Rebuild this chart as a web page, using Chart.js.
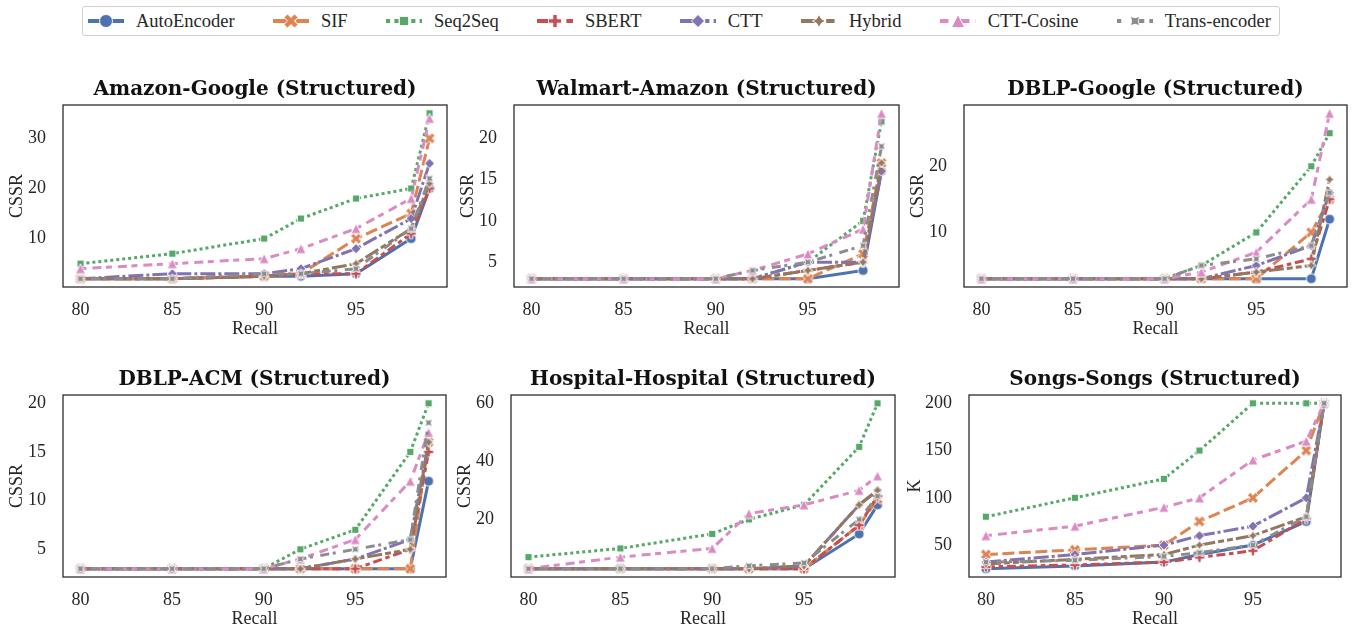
<!DOCTYPE html>
<html><head><meta charset="utf-8">
<script src="https://cdn.jsdelivr.net/npm/chart.js@4.4.0/dist/chart.umd.min.js"></script>
<style>
html,body{margin:0;padding:0;background:#fff;}
body{width:1356px;height:628px;position:relative;overflow:hidden;font-family:"Liberation Serif",serif;}
canvas.panel{position:absolute;}
#legend{position:absolute;left:82px;top:6px;width:1198px;height:30px;box-sizing:border-box;border:1px solid #d0d0d0;border-radius:3px;display:flex;justify-content:space-between;align-items:center;padding:0 8px 0 5px;}
.item{display:flex;align-items:center;font-size:18.5px;color:#262626;white-space:nowrap;}
.item canvas{margin-right:12px;}
</style></head><body>
<div id="legend"></div>
<script>
// ---------- data ----------
const recall = [80, 85, 90, 92, 95, 98, 99];
const methods = ['AutoEncoder', 'SIF', 'Seq2Seq', 'SBERT', 'CTT', 'Hybrid', 'CTT-Cosine', 'Trans-encoder'];
const xTickValues = [80, 85, 90, 95];
// rows follow `methods`, columns follow `recall`
const amazonGoogle = [
  [2, 2, 2.5, 2.5, 3, 10, 20],
  [2, 2, 2.5, 3, 10, 15, 30],
  [5, 7, 10, 14, 18, 20, 35],
  [2, 2, 2.5, 3, 3, 11, 20],
  [2, 3, 3, 4, 8, 14, 25],
  [2, 2, 2.5, 3, 5, 12, 21],
  [4, 5, 6, 8, 12, 18, 34],
  [2, 2, 3, 3, 4, 12, 22]
];
const walmartAmazon = [
  [3, 3, 3, 3, 3, 4, 16],
  [3, 3, 3, 3, 3, 6, 17],
  [3, 3, 3, 3, 5, 10, 22],
  [3, 3, 3, 3, 4, 5, 16],
  [3, 3, 3, 3, 5, 5, 16],
  [3, 3, 3, 3, 4, 5, 17],
  [3, 3, 3, 4, 6, 9, 23],
  [3, 3, 3, 4, 5, 7, 19]
];
const dblpGoogle = [
  [3, 3, 3, 3, 3, 3, 12],
  [3, 3, 3, 3, 3, 10, 15],
  [3, 3, 3, 5, 10, 20, 25],
  [3, 3, 3, 3, 4, 6, 15],
  [3, 3, 3, 3, 5, 8, 16],
  [3, 3, 3, 3, 4, 5, 18],
  [3, 3, 3, 4, 7, 15, 28],
  [3, 3, 3, 5, 6, 8, 16]
];
const dblpAcm = [
  [3, 3, 3, 3, 3, 3, 12],
  [3, 3, 3, 3, 3, 3, 16],
  [3, 3, 3, 5, 7, 15, 20],
  [3, 3, 3, 3, 3, 5, 15],
  [3, 3, 3, 3, 4, 6, 16],
  [3, 3, 3, 3, 4, 5, 16],
  [3, 3, 3, 4, 6, 12, 17],
  [3, 3, 3, 4, 5, 6, 18]
];
const hospitalHospital = [
  [3, 3, 3, 3, 3, 15, 25],
  [3, 3, 3, 3, 3, 18, 27],
  [7, 10, 15, 20, 25, 45, 60],
  [3, 3, 3, 3, 3, 18, 28],
  [3, 3, 3, 3, 4, 25, 30],
  [3, 3, 3, 3, 4, 25, 30],
  [3, 7, 10, 22, 25, 30, 35],
  [3, 3, 3, 4, 5, 20, 28]
];
const songsSongs = [
  [25, 28, 32, 40, 50, 75, 200],
  [40, 45, 50, 75, 100, 150, 200],
  [80, 100, 120, 150, 200, 200, 200],
  [27, 29, 32, 37, 44, 78, 200],
  [32, 40, 50, 60, 70, 100, 200],
  [30, 35, 40, 50, 60, 80, 200],
  [60, 70, 90, 100, 140, 160, 200],
  [32, 34, 38, 42, 50, 80, 200]
];
const panelTitles = ['Amazon-Google (Structured)', 'Walmart-Amazon (Structured)', 'DBLP-Google (Structured)',
  'DBLP-ACM (Structured)', 'Hospital-Hospital (Structured)', 'Songs-Songs (Structured)'];
const yLabels = ['CSSR', 'CSSR', 'CSSR', 'CSSR', 'CSSR', 'K'];
const yTicksAG = [10, 20, 30];
const yTicksWA = [5, 10, 15, 20];
const yTicksDG = [10, 20];
const yTicksDA = [5, 10, 15, 20];
const yTicksHH = [20, 40, 60];
const yTicksSS = [50, 100, 150, 200];

// ---------- styles ----------
const colors = ['#4C72B0', '#DD8452', '#55A868', '#C44E52', '#8172B3', '#937860', '#DA8BC3', '#8C8C8C'];
const dashUnits = [[], [4, 1.5], [1, 1], [3, 1.25, 1.5, 1.25], [5, 1, 1, 1], [5, 1, 2, 1, 2, 1], [2, 2, 3, 1.5], [1, 2.5, 3, 1.2]];
const markers = ['circle', 'xfilled', 'square', 'plus', 'diamond', 'star4', 'triangle', 'star4rot'];

// ---------- layout (plot area rectangles) ----------
const panelBoxes = [
  {l: 63, t: 105, w: 389, wy: 61}, {l: 514, t: 105, w: 390, wy: 61}, {l: 964, t: 105, w: 388, wy: 61},
  {l: 63, t: 395, w: 388, wy: 61}, {l: 511, t: 395, w: 389, wy: 61}, {l: 969, t: 395, w: 377, wy: 69}
];
const PLOT_H = 182, TITLE_H = 32, XAXIS_H = 55, RPAD = 3;

function markerPath(type, s) {
  const p = new Path2D();
  const poly = (pts) => { pts.forEach((q, i) => i ? p.lineTo(q[0], q[1]) : p.moveTo(q[0], q[1])); p.closePath(); };
  const plusPts = (rot) => {
    const a = 1/6, b = 0.5;
    const base = [[-a,b],[a,b],[a,a],[b,a],[b,-a],[a,-a],[a,-b],[-a,-b],[-a,-a],[-b,-a],[-b,a],[-a,a]];
    const c = Math.cos(rot), sn = Math.sin(rot);
    return base.map(([x, y]) => [(x*c - y*sn)*s, -(x*sn + y*c)*s]);
  };
  const regular = (n, r, rot, inner) => {
    const pts = [];
    const count = inner ? n*2 : n;
    for (let i = 0; i < count; i++) {
      const ang = Math.PI/2 + rot + i*2*Math.PI/count;
      const rr = inner && i % 2 ? r*inner : r;
      pts.push([rr*Math.cos(ang), -rr*Math.sin(ang)]);
    }
    return pts;
  };
  switch (type) {
    case 'circle': p.arc(0, 0, s/2, 0, Math.PI*2); break;
    case 'xfilled': poly(plusPts(Math.PI/4).map(([x, y]) => [x*1.15, y*1.15])); break;
    case 'plus': poly(plusPts(0)); break;
    case 'square': poly(regular(4, s/2, Math.PI/4)); break;
    case 'diamond': poly(regular(4, s/2, 0)); break;
    case 'star4': poly(regular(4, s/2, 0, 0.5)); break;
    case 'star4rot': poly(regular(4, s/2, Math.PI/4, 0.5)); break;
    case 'triangle': poly([[0, -s/2], [-s/2, s/2], [s/2, s/2]]); break;
  }
  return p;
}
function drawMarker(ctx, type, x, y, s, color) {
  ctx.save();
  ctx.translate(x, y);
  const p = markerPath(type, s);
  ctx.fillStyle = color;
  ctx.fill(p);
  ctx.strokeStyle = '#ffffff';
  ctx.lineWidth = 0.9;
  ctx.setLineDash([]);
  ctx.stroke(p);
  ctx.restore();
}
function markerImage(type, s, color) {
  const c = document.createElement('canvas');
  const n = Math.ceil(s + 4);
  c.width = n; c.height = n;
  drawMarker(c.getContext('2d'), type, n/2, n/2, s, color);
  return c;
}

// ---------- legend ----------
const legendEl = document.getElementById('legend');
methods.forEach((name, k) => {
  const item = document.createElement('div');
  item.className = 'item';
  const c = document.createElement('canvas');
  c.width = 36; c.height = 22;
  const ctx = c.getContext('2d');
  const lw = 4.2;
  ctx.strokeStyle = colors[k];
  ctx.lineWidth = lw;
  ctx.setLineDash(dashUnits[k].map(d => d*lw));
  ctx.beginPath(); ctx.moveTo(0, 11); ctx.lineTo(36, 11); ctx.stroke();
  drawMarker(ctx, markers[k], 18, 11, 13, colors[k]);
  const span = document.createElement('span');
  span.textContent = name;
  item.appendChild(c); item.appendChild(span);
  legendEl.appendChild(item);
});

// ---------- panels ----------
const frame = {
  id: 'frame',
  afterDatasetsDraw(chart) {
    const {ctx, chartArea: a} = chart;
    ctx.save();
    ctx.strokeStyle = '#262626';
    ctx.lineWidth = 1.25;
    ctx.strokeRect(a.left, a.top, a.right - a.left, a.bottom - a.top);
    ctx.restore();
  }
};
const panelData = [amazonGoogle, walmartAmazon, dblpGoogle, dblpAcm, hospitalHospital, songsSongs];
const panelYTicks = [yTicksAG, yTicksWA, yTicksDG, yTicksDA, yTicksHH, yTicksSS];
const LW = 3;
const pointImgs = methods.map((_, k) => markerImage(markers[k], 10, colors[k]));
const tickFont = {family: 'Liberation Serif', size: 18};

panelData.forEach((rows, pi) => {
  const box = panelBoxes[pi];
  const cv = document.createElement('canvas');
  cv.className = 'panel';
  const W = box.wy + box.w + RPAD, H = TITLE_H + PLOT_H + XAXIS_H;
  cv.width = W; cv.height = H;
  cv.style.left = (box.l - box.wy) + 'px';
  cv.style.top = (box.t - TITLE_H) + 'px';
  cv.style.width = W + 'px'; cv.style.height = H + 'px';
  document.body.appendChild(cv);

  const all = rows.flat();
  const ymin = Math.min(...all), ymax = Math.max(...all);
  const yr = ymax - ymin;
  const xr = recall[recall.length - 1] - recall[0];

  new Chart(cv, {
    type: 'line',
    data: {
      datasets: rows.map((vals, k) => ({
        label: methods[k],
        data: recall.map((x, i) => ({x, y: vals[i]})),
        borderColor: colors[k],
        backgroundColor: colors[k],
        borderWidth: LW,
        borderDash: dashUnits[k].map(d => d*LW),
        borderCapStyle: 'butt',
        pointStyle: pointImgs[k],
        pointRadius: 5,
        tension: 0,
        fill: false,
        order: methods.length - k
      }))
    },
    options: {
      responsive: false,
      animation: false,
      devicePixelRatio: 1,
      layout: {padding: {left: 0, right: RPAD, top: 0, bottom: 0}},
      plugins: {
        legend: {display: false},
        tooltip: {enabled: false},
        title: {
          display: true, text: panelTitles[pi], fullSize: false,
          color: '#111',
          font: {family: 'DejaVu Serif', weight: 'bold', size: 20, lineHeight: '22px'},
          padding: {top: 6, bottom: 4}
        }
      },
      scales: {
        x: {
          type: 'linear',
          min: recall[0] - 0.05*xr, max: recall[recall.length - 1] + 0.05*xr,
          afterBuildTicks: s => { s.ticks = xTickValues.map(v => ({value: v})); },
          afterFit: s => { s.height = XAXIS_H; },
          grid: {display: false}, border: {display: false},
          ticks: {font: tickFont, color: '#262626', padding: 4, maxRotation: 0},
          title: {display: true, text: 'Recall', font: tickFont, color: '#262626', padding: {top: 4, bottom: 2}}
        },
        y: {
          type: 'linear',
          min: ymin - 0.05*yr, max: ymax + 0.05*yr,
          afterBuildTicks: s => { s.ticks = panelYTicks[pi].map(v => ({value: v})); },
          afterFit: s => { s.width = box.wy; },
          grid: {display: false}, border: {display: false},
          ticks: {font: tickFont, color: '#262626', padding: 9},
          title: {display: true, text: yLabels[pi], font: tickFont, color: '#262626', padding: {top: 4, bottom: 4}}
        }
      }
    },
    plugins: [frame]
  });
});
</script>
</body></html>
